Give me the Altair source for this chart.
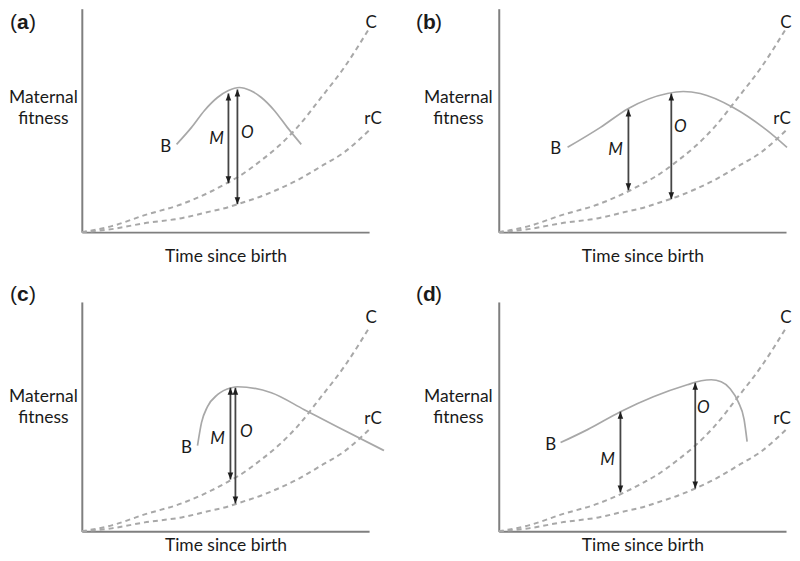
import altair as alt
import pandas as pd

# ---- shared cost curves (same in all four panels) ----
curve_t = [0, 30, 63, 100, 130, 147, 156, 180, 197, 216, 240, 263, 288]
cost_C = [0, 6, 17, 28, 41, 50, 55, 72, 86, 105, 135, 165, 204]
cost_rC = [0, 3, 9, 14, 21, 25, 28, 36, 43, 52, 66, 80, 102]

panel_ids = ["a", "b", "c", "d"]

# ---- benefit curve B per panel ----
benefit_t = {
    "a": [95, 110, 123, 136, 147, 158, 169, 180, 193, 206, 220],
    "b": [69, 102, 130, 169, 185, 202, 235, 269, 289],
    "c": [116, 120, 126, 136, 150, 156, 190, 223, 256, 303],
    "d": [62, 89, 122, 155, 189, 203, 213, 223, 232, 240, 246, 249],
}
benefit_B = {
    "a": [88, 105, 122, 135, 142, 145, 142, 135, 122, 105, 88],
    "b": [85, 105, 124, 139, 141, 139, 125, 102, 85],
    "c": [86, 109, 125, 137, 144, 145, 139, 122, 105, 81],
    "d": [89, 102, 120, 135, 147, 151, 152, 150, 143, 130, 112, 90],
}

# ---- double-headed arrows M and O per panel ----
arrow_names = ["M", "O"]
arrow_t = {"a": [147, 156], "b": [130, 173], "c": [149, 154], "d": [122, 197]}
arrow_low = {"a": [49, 28], "b": [42, 33], "c": [52, 28], "d": [39, 43]}
arrow_high = {"a": [139, 143], "b": [123, 139], "c": [144, 144], "d": [120, 149]}

# ---- label anchors (data units) ----
label_B = {"a": (84, 85), "b": (57, 83), "c": (105, 84), "d": (52, 87)}
label_M = {"a": (135, 93), "b": (117, 82), "c": (136, 93), "d": (109, 72)}
label_O = {"a": (166, 99), "b": (182, 105), "c": (165, 100), "d": (205, 124)}
label_C = {"a": (290, 210), "b": (288, 210), "c": (290, 214), "d": (288, 214)}
label_rC = {"a": (292, 113), "b": (284, 113), "c": (292, 113), "d": (284, 113)}
label_panel = {"a": (-72, 210), "b": (-83, 210), "c": (-72, 237), "d": (-83, 237)}

x_title = "Time since birth"
y_title = ["Maternal", "fitness"]

FONT = "Lato"
LETTER_FONT = "Liberation Sans"
GREY = "#a8a8a8"
AXIS_GREY = "#7f7f7f"
ARROW = "#454545"
HEAD = "#1e1e1e"
TEXT = "#1a1a1a"

UP = "M0,0L-0.4,1L0.4,1Z"
DOWN = "M0,0L-0.4,-1L0.4,-1Z"


def make_panel(pid, col, row):
    W = 288
    H = 224 if row == 0 else 230
    xsc = alt.Scale(domain=[0, W], nice=False, zero=False)
    ysc = alt.Scale(domain=[0, H], nice=False, zero=False)
    xaxis = alt.Axis(domain=True, domainColor=AXIS_GREY, domainWidth=2, ticks=False,
                     labels=False, grid=False, title=x_title, titleFont=FONT,
                     titleFontSize=17.5, titleFontWeight="normal", titleColor=TEXT,
                     titleX=144, titleY=15 if row == 0 else 5, titleBaseline="top",
                     titleAlign="center")
    yaxis = alt.Axis(domain=True, domainColor=AXIS_GREY, domainWidth=2, ticks=False,
                     labels=False, grid=False, title=y_title, titleFont=FONT,
                     titleFontSize=17.5, titleFontWeight="normal", titleColor=TEXT,
                     titleAngle=0, titleX=-39 if col == 0 else -41, titleY=H - 135,
                     titleAlign="center", titleBaseline="middle", titleLineHeight=21)

    def X(f):
        return alt.X(f, type="quantitative", scale=xsc, axis=xaxis)

    def Y(f):
        return alt.Y(f, type="quantitative", scale=ysc, axis=yaxis)

    n = len(curve_t)
    cost_df = pd.DataFrame({"t": curve_t + curve_t, "v": cost_C + cost_rC,
                            "curve": ["C"] * n + ["rC"] * n})
    cost = alt.Chart(cost_df).mark_line(color=GREY, strokeWidth=2, strokeDash=[5, 4],
                                        interpolate="monotone").encode(
        x=X("t"), y=Y("v"), detail="curve:N")

    ben_df = pd.DataFrame({"t": benefit_t[pid], "v": benefit_B[pid]})
    benefit = alt.Chart(ben_df).mark_line(color=GREY, strokeWidth=1.7,
                                          interpolate="monotone").encode(x=X("t"), y=Y("v"))

    arr_df = pd.DataFrame({"name": arrow_names, "t": arrow_t[pid],
                           "lo": arrow_low[pid], "hi": arrow_high[pid]})
    shaft = alt.Chart(arr_df).mark_rule(color=ARROW, strokeWidth=1.8).encode(
        x=X("t"), y=Y("lo"), y2=alt.Y2("hi"))
    head_up = alt.Chart(arr_df).mark_point(shape=UP, filled=True, size=196, color=HEAD,
                                           opacity=1, strokeWidth=0).encode(x=X("t"), y=Y("hi"))
    head_dn = alt.Chart(arr_df).mark_point(shape=DOWN, filled=True, size=196, color=HEAD,
                                           opacity=1, strokeWidth=0).encode(x=X("t"), y=Y("lo"))

    lab_df = pd.DataFrame({
        "text": ["B", "C", "rC"],
        "t": [label_B[pid][0], label_C[pid][0], label_rC[pid][0]],
        "v": [label_B[pid][1], label_C[pid][1], label_rC[pid][1]],
    })
    labels = alt.Chart(lab_df).mark_text(font=FONT, fontSize=17, color=TEXT,
                                         align="center", baseline="middle").encode(
        x=X("t"), y=Y("v"), text="text:N")
    ital_df = pd.DataFrame({
        "text": ["M", "O"],
        "t": [label_M[pid][0], label_O[pid][0]],
        "v": [label_M[pid][1], label_O[pid][1]],
    })
    ital = alt.Chart(ital_df).mark_text(font=FONT, fontSize=17, fontStyle="italic", color=TEXT,
                                        align="center", baseline="middle").encode(
        x=X("t"), y=Y("v"), text="text:N")

    let_df = pd.DataFrame({"t": [label_panel[pid][0]], "v": [label_panel[pid][1]],
                           "open": ["("], "letter": [pid], "close": [")"]})
    base = alt.Chart(let_df)
    l1 = base.mark_text(font=LETTER_FONT, fontSize=21, color=TEXT, align="left",
                        baseline="middle").encode(x=X("t"), y=Y("v"), text="open:N")
    l2 = base.mark_text(font=LETTER_FONT, fontSize=21, fontWeight="bold", color=TEXT,
                        align="left", baseline="middle", dx=7).encode(
        x=X("t"), y=Y("v"), text="letter:N")
    l3 = base.mark_text(font=LETTER_FONT, fontSize=21, color=TEXT, align="left",
                        baseline="middle", dx=19).encode(x=X("t"), y=Y("v"), text="close:N")

    return alt.layer(cost, benefit, shaft, head_up, head_dn, labels, ital, l1, l2, l3).properties(
        width=W, height=H)


panels = [make_panel(p, i % 2, i // 2) for i, p in enumerate(panel_ids)]

chart = alt.concat(*panels, columns=2, spacing={"row": 70, "column": 130},
                   bounds="flush").properties(padding=0, background="white").configure_view(
    stroke=None)

chart.save("out.html", embed_options={"renderer": "svg", "actions": False})
